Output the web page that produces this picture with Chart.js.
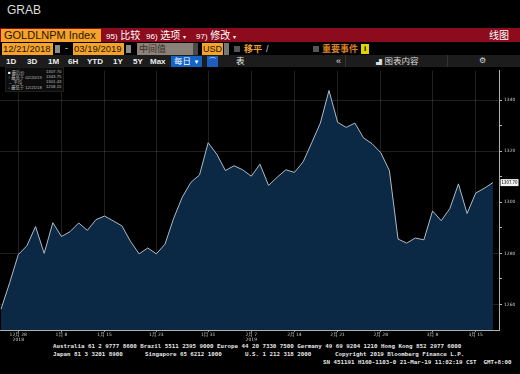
<!DOCTYPE html>
<html>
<head>
<meta charset="utf-8">
<script src="https://cdn.jsdelivr.net/npm/chart.js@4/dist/chart.umd.min.js"></script>
<style>
  body { margin: 0; background: #000; width: 520px; height: 374px; overflow: hidden; position: relative;
         font-family: "Liberation Sans", "Noto Sans CJK SC", sans-serif; }
  .a { position: absolute; white-space: nowrap; }
  .mono { font-family: "DejaVu Sans Mono", monospace; font-size: 11.6px; color: #e6e6e6;
          transform: scale(0.5); transform-origin: 0 0; font-weight: bold; }
  .btn { color: #eee; font-size: 8px; font-weight: bold; top: 57px; }
  #legend { left: 5px; top: 67px; width: 57px; height: 23px; background: #0d0d0d; border: 1px solid #1e1e1e; }
  #legend .in { position: absolute; left: 0; top: 0; width: 114px; height: 46px;
                transform: scale(0.5); transform-origin: 0 0; font-size: 8.5px; color: #bbb; }
  #legend .in div { position: absolute; }
</style>
</head>
<body>
<!-- header -->
<div class="a" style="left:7px;top:3px;font-size:12px;color:#dcdcdc;">GRAB</div>
<div class="a" style="left:0;top:28px;width:520px;height:14px;background:#8c0b1d;"></div>
<div class="a" style="left:1px;top:29px;width:100px;height:13px;background:#f5a32a;color:#2a1400;font-size:11px;line-height:13px;padding-left:3px;box-sizing:border-box;">GOLDLNPM Index</div>
<div class="a" style="left:106px;top:29px;font-size:10px;line-height:13px;color:#fff;"><span style="font-size:8px">95)</span> 比较</div>
<div class="a" style="left:146px;top:29px;font-size:10px;line-height:13px;color:#fff;"><span style="font-size:8px">96)</span> 选项 <span style="font-size:6px">▾</span></div>
<div class="a" style="left:196px;top:29px;font-size:10px;line-height:13px;color:#fff;"><span style="font-size:8px">97)</span> 修改 <span style="font-size:6px">▾</span></div>
<div class="a" style="left:489px;top:29px;font-size:10px;line-height:13px;color:#fff;">线图</div>

<div class="a" style="left:2px;top:43px;width:51px;height:12px;background:#f5a32a;color:#2a1400;font-size:9.5px;line-height:12px;padding-left:1px;box-sizing:border-box;">12/21/2018</div>
<div class="a" style="left:55px;top:45px;width:5px;height:8px;background:#8a8a8a;"></div>
<div class="a" style="left:65px;top:43px;font-size:9px;color:#ddd;">-</div>
<div class="a" style="left:73px;top:43px;width:51px;height:12px;background:#f5a32a;color:#2a1400;font-size:9.5px;line-height:12px;padding-left:1px;box-sizing:border-box;">03/19/2019</div>
<div class="a" style="left:126px;top:45px;width:5px;height:8px;background:#8a8a8a;"></div>
<div class="a" style="left:137px;top:43px;width:56px;height:12px;background:#8a8178;color:#3c2f25;font-size:9px;line-height:12px;padding-left:2px;box-sizing:border-box;">中间值</div>
<div class="a" style="left:193px;top:43px;width:5px;height:12px;background:#4a4a4a;"></div>
<div class="a" style="left:202px;top:43px;width:21px;height:12px;background:#f5a32a;color:#2a1400;font-size:9px;line-height:12px;padding-left:1px;box-sizing:border-box;">USD</div>
<div class="a" style="left:224px;top:43px;width:5px;height:12px;background:#777;"></div>
<div class="a" style="left:234px;top:46px;width:6px;height:6px;background:#555;"></div>
<div class="a" style="left:244px;top:43px;font-size:9px;line-height:12px;color:#f0a030;font-weight:bold;">移平</div>
<div class="a" style="left:266px;top:43px;font-size:9px;line-height:12px;color:#ccc;">/</div>
<div class="a" style="left:313px;top:46px;width:6px;height:6px;background:#555;"></div>
<div class="a" style="left:322px;top:43px;font-size:9px;line-height:12px;color:#d9802a;font-weight:bold;">重要事件</div>
<div class="a" style="left:361px;top:44px;width:8px;height:10px;background:#e2d400;color:#000;font-size:8px;line-height:10px;text-align:center;font-weight:bold;">i</div>

<div class="a" style="left:0;top:55px;width:520px;height:12px;background:#1c1c1c;"></div>
<div class="a btn" style="left:6px;">1D</div>
<div class="a btn" style="left:27px;">3D</div>
<div class="a btn" style="left:48px;">1M</div>
<div class="a btn" style="left:68px;">6H</div>
<div class="a btn" style="left:87px;">YTD</div>
<div class="a btn" style="left:113px;">1Y</div>
<div class="a btn" style="left:133px;">5Y</div>
<div class="a btn" style="left:150px;">Max</div>
<div class="a" style="left:171px;top:56px;width:31px;height:11px;background:#1463c6;color:#fff;font-size:8.5px;line-height:11px;padding-left:3px;box-sizing:border-box;">每日 <span style="font-size:6px">▼</span></div>
<div class="a" style="left:207px;top:56px;width:11px;height:11px;background:#1d5ec0;color:#cfe;font-size:7px;line-height:10px;text-align:center;">⌒</div>
<div class="a" style="left:236px;top:55px;font-size:8.5px;line-height:12px;color:#eee;">表</div>
<div class="a" style="left:336px;top:55px;font-size:9px;line-height:12px;color:#ddd;">«</div>
<div class="a" style="left:345px;top:55px;width:1px;height:12px;background:#333;"></div>
<div class="a" style="left:376px;top:55px;font-size:8.5px;line-height:12px;color:#ddd;"><span style="font-size:6px">▟</span> 图表内容</div>
<div class="a" style="left:447px;top:55px;width:1px;height:12px;background:#333;"></div>
<div class="a" style="left:479px;top:55px;font-size:8px;line-height:12px;color:#ddd;">⚙</div>

<canvas id="myChart" class="a" width="520" height="276" style="left:0;top:66px;"></canvas>

<div id="legend" class="a">
  <div class="in">
    <div style="left:4px;top:2px;"><span style="color:#fff">■</span> 最后价</div>
    <div style="left:80px;top:2px;">1307.70</div>
    <div style="left:4px;top:12px;">↑ 最高于 02/20/19</div>
    <div style="left:80px;top:12px;">1343.75</div>
    <div style="left:4px;top:22px;">→ 平均</div>
    <div style="left:80px;top:22px;">1301.43</div>
    <div style="left:4px;top:32px;">↓ 最低于 12/21/18</div>
    <div style="left:80px;top:32px;">1258.15</div>
  </div>
</div>

<!-- footer -->
<div class="a mono" style="left:53px;top:342px;">Australia 61 2 9777 8600 Brazil 5511 2395 9000 Europe 44 20 7330 7500 Germany 49 69 9204 1210 Hong Kong 852 2977 6000</div>
<div class="a mono" style="left:53px;top:350px;">Japan 81 3 3201 8900</div>
<div class="a mono" style="left:145px;top:350px;">Singapore 65 6212 1000</div>
<div class="a mono" style="left:245px;top:350px;">U.S. 1 212 318 2000</div>
<div class="a mono" style="left:335px;top:350px;">Copyright 2019 Bloomberg Finance L.P.</div>
<div class="a mono" style="left:323px;top:358px;">SN 451191 H160-1103-0 21-Mar-19 11:02:19 CST&nbsp; GMT+8:00</div>

<script>
/*
 * DATA
 */
	var dates = ['12/21','12/27','12/28','01/02','01/03','01/04','01/07','01/08','01/09','01/10','01/11',
		'01/14','01/15','01/16','01/17','01/18','01/21','01/22','01/23','01/24','01/25',
		'01/28','01/29','01/30','01/31','02/01','02/04','02/05','02/06','02/07','02/08',
		'02/11','02/12','02/13','02/14','02/15','02/18','02/19','02/20','02/21','02/22',
		'02/25','02/26','02/27','02/28','03/01','03/04','03/05','03/06','03/07','03/08',
		'03/11','03/12','03/13','03/14','03/15','03/18','03/19'];
	var prices = [1258.15, 1268.5, 1279.5, 1283.0, 1290.5, 1280.0, 1292.0, 1286.6, 1288.5, 1291.9, 1289.0,
		1293.2, 1294.6, 1292.7, 1290.8, 1284.7, 1279.8, 1282.1, 1279.8, 1283.6, 1293.7,
		1302.0, 1307.8, 1310.7, 1323.3, 1318.8, 1312.4, 1314.3, 1312.7, 1310.2, 1314.9,
		1306.6, 1309.8, 1312.7, 1311.7, 1315.8, 1323.3, 1331.0, 1343.75, 1331.3, 1329.3,
		1331.0, 1325.2, 1322.9, 1319.4, 1312.4, 1285.6, 1284.0, 1286.0, 1285.3, 1296.6,
		1292.8, 1297.5, 1307.2, 1295.6, 1303.6, 1305.5, 1307.70];
	var tickDates  = ['12/28','01/08','01/15','01/23','01/31','02/07','02/14','02/21','02/28','03/08','03/15'];
	var tickLabels = ['12月 28','1月 8','1月 15','1月 23','1月 31','2月 7','2月 14','2月 21','2月 28','3月 8','3月 15'];
	var yearLabels = ['2018','','','','','2019','','','','',''];
	var yTicks = [1260, 1270, 1280, 1290, 1300, 1310, 1320, 1330, 1340];

	var gridColor = 'rgba(255,255,255,0.13)';

	/* last price box on the right axis */
	var lastPricePlugin = {
		id: 'lastPrice',
		afterDraw: function(chart) {
			var ctx = chart.ctx;
			var last = prices[prices.length - 1];
			var y = chart.scales.y.getPixelForValue(last);
			ctx.save();
			ctx.fillStyle = '#f2f2f2';
			ctx.fillRect(500.5, y - 3.5, 18, 7);
			ctx.fillStyle = '#000';
			ctx.font = '5px "DejaVu Sans"';
			ctx.textBaseline = 'middle';
			ctx.fillText(last.toFixed(2), 501.5, y + 0.3, 16);
			ctx.restore();
		}
	};

	var myChart = new Chart(document.getElementById('myChart'), {
		type: 'line',
		data: {
			datasets: [{
				data: prices.map(function(v, i) { return { x: i, y: v }; }),
				borderColor: '#aebbc6',
				borderWidth: 1,
				backgroundColor: '#0b2845',
				fill: 'start',
				pointRadius: 0,
				tension: 0
			}]
		},
		options: {
			responsive: false,
			animation: false,
			devicePixelRatio: 1,
			layout: { padding: 0 },
			plugins: { legend: { display: false }, tooltip: { enabled: false } },
			scales: {
				x: {
					type: 'linear',
					min: -0.12,
					max: 57.7,
					z: 1,
					afterBuildTicks: function(scale) {
						scale.ticks = tickDates.map(function(d) { return { value: dates.indexOf(d) }; });
					},
					afterFit: function(scale) { scale.height = 12; },
					grid: { color: gridColor, tickColor: '#999', tickLength: 2 },
					border: { color: '#b0b0b0' },
					ticks: {
						autoSkip: false, maxRotation: 0, padding: 0,
						color: '#c8c8c8',
						font: { size: 4.5, family: '"DejaVu Sans", "Noto Sans CJK SC"' },
						callback: function(value) {
							var k = tickDates.indexOf(dates[value]);
							return yearLabels[k] ? [tickLabels[k], yearLabels[k]] : tickLabels[k];
						}
					}
				},
				y: {
					type: 'linear',
					position: 'right',
					min: 1250,
					max: 1351.5,
					z: 1,
					afterBuildTicks: function(scale) {
						scale.ticks = yTicks.map(function(v) { return { value: v }; });
					},
					afterFit: function(scale) { scale.width = 21; },
					grid: {
						color: function(c) {
							var v = c.tick.value;
							return (v % 20 === 0 && v !== 1300) ? gridColor : 'transparent';
						},
						tickColor: '#bbb',
						tickLength: 3
					},
					border: { color: '#b0b0b0' },
					ticks: {
						padding: 2,
						color: '#c8c8c8',
						font: { size: 4.5, family: '"DejaVu Sans"' },
						callback: function(value) { return value % 20 === 0 ? String(value) : ''; }
					}
				}
			}
		},
		plugins: [lastPricePlugin]
	});
</script>
</body>
</html>
